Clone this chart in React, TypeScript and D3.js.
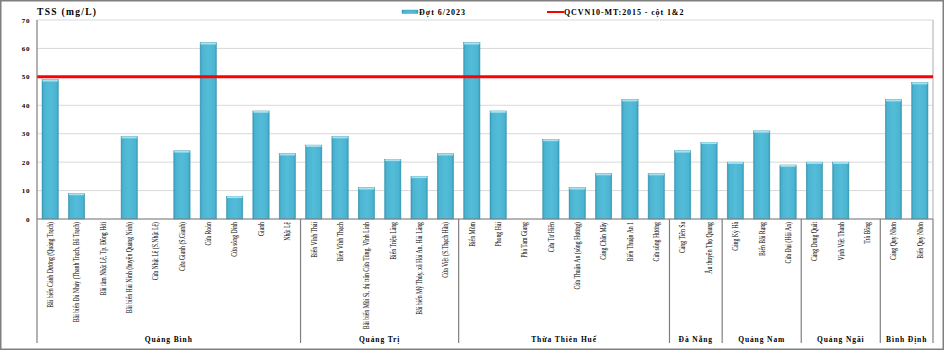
import React from "react";
import * as d3 from "d3";

const categories: string[] = [
  "Bãi biển Cảnh Dương (Quảng Trạch)",
  "Bãi biển Đá Nhảy (Thanh Trạch, Bố Trạch)",
  "Bãi tắm Nhật Lệ, Tp. Đồng Hới",
  "Bãi biển Hải Ninh (huyện Quảng Ninh)",
  "Cửa Nhật Lệ (S.Nhật Lệ)",
  "Cửa Gianh (S.Gianh)",
  "Cửa Roòn",
  "Cửa sông Dinh",
  "Gianh",
  "Nhật Lệ",
  "Biển Vĩnh Thái",
  "Biển Vĩnh Thạch",
  "Bãi biển Mũi Si, thị trấn Cửa Tùng, Vĩnh Linh",
  "Biển Triệu Lăng",
  "Bãi biển Mỹ Thủy, xã Hải An, Hải Lăng",
  "Cửa Việt (S.Thạch Hãn)",
  "Biển Mõm",
  "Phong Hải",
  "Phá Tam Giang",
  "Cửa Tư Hiền",
  "Cửa Thuận An (sông Hương)",
  "Cảng Chân Mây",
  "Biển Thuận An 1",
  "Cửa sông Hương",
  "Cảng Tiên Sa",
  "Âu thuyền Thọ Quang",
  "Cảng Kỳ Hà",
  "Biển Bãi Rạng",
  "Cửa Đại (Hội An)",
  "Cảng Dung Quất",
  "Vịnh Việt Thanh",
  "Trà Bồng",
  "Cảng Quy Nhơn",
  "Biển Quy Nhơn",
];

const values: number[] = [
  49, 9, 0, 29, 0, 24, 62, 8, 38, 23,
  26, 29, 11, 21, 15, 23,
  62, 38, 0, 28, 11, 16, 42, 16,
  24, 27,
  20, 31, 19,
  20, 20, 0,
  42, 48,
];

const groupNames: string[] = ["Quảng Bình", "Quảng Trị", "Thừa Thiên Huế", "Đà Nẵng", "Quảng Nam", "Quảng Ngãi", "Bình Định"];
const groupSizes: number[] = [10, 6, 8, 2, 3, 3, 2];

const yTicks: number[] = [0, 10, 20, 30, 40, 50, 60, 70];
const limitValue = 50;
const seriesName = "Đợt 6/2023";
const limitName = "QCVN10-MT:2015 - cột 1&2";
const yTitle = "TSS (mg/L)";

export default function App() {
  const W = 945, H = 351;
  const left = 37, right = 933, top = 20, bottom = 219;
  const x = d3.scaleBand<number>().domain(d3.range(categories.length)).range([left, right]).paddingInner(0.38).paddingOuter(0.19);
  const y = d3.scaleLinear().domain([0, 70]).range([bottom, top]);
  const serif = "'Liberation Serif', 'Times New Roman', serif";

  let acc = 0;
  const groups = groupSizes.map((n, i) => {
    const start = acc;
    acc += n;
    const x0 = left + (start / categories.length) * (right - left);
    const x1 = left + (acc / categories.length) * (right - left);
    return { name: groupNames[i], x0, x1 };
  });

  return (
    <svg width={W} height={H} style={{ position: "absolute", left: 0, top: 0, background: "#fff" }}>
      <defs>
        <linearGradient id="barGrad" x1="0" x2="1" y1="0" y2="0">
          <stop offset="0" stopColor="#3899b8" />
          <stop offset="0.12" stopColor="#4ab4d1" />
          <stop offset="0.5" stopColor="#54bcd9" />
          <stop offset="0.88" stopColor="#4ab4d1" />
          <stop offset="1" stopColor="#3899b8" />
        </linearGradient>
      </defs>
      <rect x={0.75} y={0.75} width={W - 2.5} height={H - 2.5} fill="#fff" stroke="#7f7f7f" strokeWidth={1.5} />
      {yTicks.map((t) => (
        <line key={"g" + t} x1={left} x2={right} y1={y(t)} y2={y(t)} stroke="#d9d9d9" strokeWidth={1} />
      ))}
      <line x1={right} x2={right} y1={top} y2={bottom} stroke="#c8c8c8" strokeWidth={1.5} />
      {yTicks.map((t) => (
        <text key={"t" + t} x={30} y={y(t) + 2.5} textAnchor="end" fontFamily={serif} fontWeight="bold" fontSize={7} letterSpacing={0.6} fill="#000">
          {t}
        </text>
      ))}
      <text x={37} y={15} fontFamily={serif} fontWeight="bold" fontSize={9.5} letterSpacing={1.3} fill="#000">{yTitle}</text>
      {values.map((v, i) => (
        v > 0 ? (
          <g key={"b" + i}>
            <rect x={x(i)!} y={y(v)} width={x.bandwidth()} height={bottom - y(v)} fill="url(#barGrad)" stroke="#3a95b0" strokeWidth={0.5} />
            <rect x={x(i)! + 0.5} y={y(v)} width={x.bandwidth() - 1} height={1.8} fill="#a8e1ef" />
          </g>
        ) : null
      ))}
      <line x1={left} x2={right} y1={y(limitValue)} y2={y(limitValue)} stroke="#ff0000" strokeWidth={3} />
      <line x1={left} x2={left} y1={top} y2={343} stroke="#7f7f7f" strokeWidth={1.2} />
      <line x1={left} x2={right} y1={bottom} y2={bottom} stroke="#7f7f7f" strokeWidth={1} />
      <line x1={right} x2={right} y1={bottom} y2={343} stroke="#7f7f7f" strokeWidth={1.2} />
      {groups.slice(0, -1).map((g, i) => (
        <line key={"s" + i} x1={g.x1} x2={g.x1} y1={bottom} y2={343} stroke="#7f7f7f" strokeWidth={1.2} />
      ))}
      {categories.map((c, i) => (
        <text key={"c" + i} transform={`translate(${x(i)! + x.bandwidth() / 2 + 2.8},222) rotate(-90) scale(0.68,1)`} textAnchor="end" fontFamily={serif} fontSize={8.5} fill="#000">
          {c}
        </text>
      ))}
      {groups.map((g, i) => (
        <text key={"gl" + i} x={(g.x0 + g.x1) / 2} y={342} textAnchor="middle" fontFamily={serif} fontWeight="bold" fontSize={7.5} letterSpacing={0.9} fill="#000">
          {g.name}
        </text>
      ))}
      <rect x={402} y={10} width={16} height={3.5} fill="url(#barGrad)" stroke="#3a95b0" strokeWidth={0.4} />
      <text x={419} y={15} fontFamily={serif} fontWeight="bold" fontSize={8} letterSpacing={1} fill="#000">{seriesName}</text>
      <line x1={547} x2={564} y1={12} y2={12} stroke="#ff0000" strokeWidth={2} />
      <text x={564} y={15} fontFamily={serif} fontWeight="bold" fontSize={8} letterSpacing={0.9} fill="#000">{limitName}</text>
    </svg>
  );
}
